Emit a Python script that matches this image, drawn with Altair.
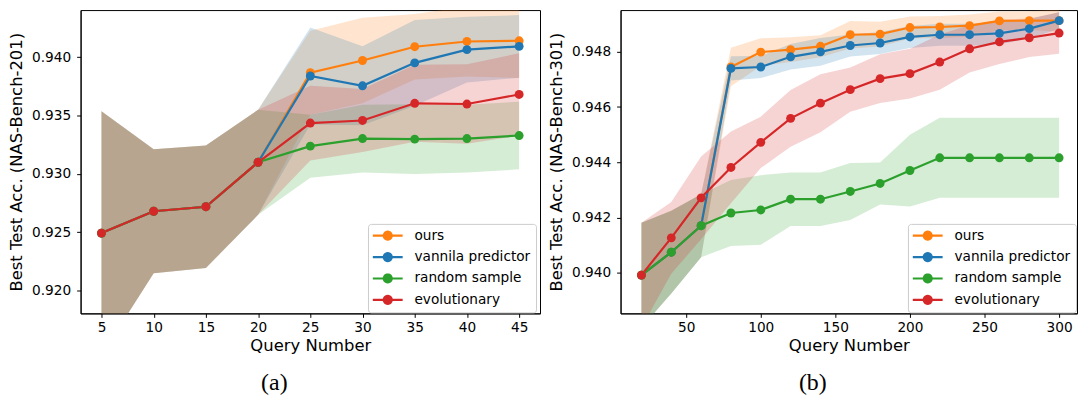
import math
import altair as alt
import pandas as pd

# ---------------- data ----------------
methods = ["ours", "vannila predictor", "random sample", "evolutionary"]
colors = ["#ff7f0e", "#1f77b4", "#2ca02c", "#d62728"]

# (a) NAS-Bench-201
x_a = [5, 10, 15, 20, 25, 30, 35, 40, 45]
ours_a = [0.92493, 0.92680, 0.92719, 0.93100, 0.93867, 0.93972, 0.94090, 0.94135, 0.94141]
ours_a_std = [0.01045, 0.00532, 0.00525, 0.00450, 0.00360, 0.00367, 0.00280, 0.00300, 0.00320]
vanilla_a = [0.92493, 0.92680, 0.92719, 0.93100, 0.93839, 0.93755, 0.93952, 0.94065, 0.94093]
vanilla_a_std = [0.01045, 0.00532, 0.00525, 0.00450, 0.00415, 0.00338, 0.00367, 0.00282, 0.00268]
random_a = [0.92493, 0.92680, 0.92719, 0.93100, 0.93238, 0.93303, 0.93298, 0.93303, 0.93329]
random_a_std = [0.01045, 0.00532, 0.00525, 0.00450, 0.00270, 0.00290, 0.00298, 0.00290, 0.00290]
evo_a = [0.92493, 0.92680, 0.92719, 0.93100, 0.93436, 0.93458, 0.93605, 0.93599, 0.93681]
evo_a_std = [0.01045, 0.00532, 0.00525, 0.00450, 0.00320, 0.00270, 0.00330, 0.00340, 0.00353]

# (b) NAS-Bench-301
x_b = [20, 40, 60, 80, 100, 120, 140, 160, 180, 200, 220, 240, 260, 280, 300]
ours_b = [0.93991, 0.94074, 0.94170, 0.94745, 0.94799, 0.94808, 0.94820, 0.94862,
          0.94864, 0.94888, 0.94890, 0.94895, 0.94912, 0.94913, 0.94913]
ours_b_std = [0.00190, 0.00150, 0.00114, 0.00070, 0.00050, 0.00045, 0.00040, 0.00050,
              0.00045, 0.00040, 0.00040, 0.00040, 0.00034, 0.00034, 0.00040]
vanilla_b = [0.93991, 0.94074, 0.94170, 0.94740, 0.94745, 0.94782, 0.94800, 0.94823,
             0.94832, 0.94854, 0.94862, 0.94862, 0.94867, 0.94884, 0.94913]
vanilla_b_std = [0.00190, 0.00150, 0.00114, 0.00044, 0.00040, 0.00046, 0.00050, 0.00040,
                 0.00040, 0.00040, 0.00040, 0.00040, 0.00040, 0.00035, 0.00030]
random_b = [0.93991, 0.94074, 0.94170, 0.94216, 0.94227, 0.94266, 0.94266, 0.94294,
            0.94323, 0.94370, 0.94416, 0.94416, 0.94416, 0.94416, 0.94416]
random_b_std = [0.00190, 0.00150, 0.00114, 0.00120, 0.00126, 0.00097, 0.00097, 0.00103,
                0.00076, 0.00130, 0.00145, 0.00145, 0.00145, 0.00145, 0.00145]
evo_b = [0.93991, 0.94126, 0.94271, 0.94381, 0.94472, 0.94559, 0.94614, 0.94663,
         0.94703, 0.94721, 0.94763, 0.94811, 0.94836, 0.94851, 0.94868]
evo_b_std = [0.00190, 0.00130, 0.00150, 0.00130, 0.00093, 0.00103, 0.00105, 0.00080,
             0.00088, 0.00090, 0.00100, 0.00086, 0.00080, 0.00070, 0.00075]

xticks_a = [5, 10, 15, 20, 25, 30, 35, 40, 45]
yticks_a = [0.920, 0.925, 0.930, 0.935, 0.940]
xticks_b = [50, 100, 150, 200, 250, 300]
yticks_b = [0.940, 0.942, 0.944, 0.946, 0.948]


def long_df(x, series):
    rows = []
    for name, (mean, std) in zip(methods, series):
        for xi, m, s in zip(x, mean, std):
            rows.append({"x": xi, "method": name, "mean": m, "lo": m - s, "hi": m + s})
    return pd.DataFrame(rows)


# legend symbol: a short line with a circle marker (path units scaled by sqrt(size)/2)
def legend_path():
    r = 0.85
    pts = []
    n = 24
    for i in range(n):
        t = 2 * math.pi * i / n
        pts.append(f"{r * math.cos(t):.3f},{r * math.sin(t):.3f}")
    circle = "M" + " L".join(pts) + " Z"
    line = "M-2.5,-0.18 L2.5,-0.18 L2.5,0.18 L-2.5,0.18 Z"
    return line + " " + circle


SYM = legend_path()


def make_legend():
    return alt.Legend(title=None, orient="none", legendX=289, legendY=215,
                      symbolType=SYM, symbolSize=144, symbolStrokeWidth=0, symbolOpacity=1,
                      symbolOffset=8, labelOffset=20, rowPadding=6.5, padding=5,
                      fillColor="rgba(255,255,255,0.8)", strokeColor="#cccccc",
                      cornerRadius=3, labelFontSize=13.75, labelFont="DejaVu Sans",
                      labelColor="black")


def panel(df, xdom, ydom, xticks, yticks, w, h, ylabel, caption):
    base = alt.Chart(df)
    xs = alt.Scale(domain=xdom, nice=False, zero=False)
    ys = alt.Scale(domain=ydom, nice=False, zero=False)
    cs = alt.Scale(domain=methods, range=colors)
    xenc = alt.X("x:Q", scale=xs,
                 axis=alt.Axis(values=xticks, title="Query Number", format="d"))
    yaxis = alt.Axis(values=yticks, title=ylabel, format=".3f")
    yenc = alt.Y("mean:Q", scale=ys, axis=yaxis)
    cenc = alt.Color("method:N", scale=cs, legend=make_legend())
    band = base.mark_area(opacity=0.2, clip=True).encode(
        x=xenc, y=alt.Y("lo:Q", scale=ys, axis=yaxis), y2="hi:Q", color=cenc)
    line = base.mark_line(strokeWidth=2.2, clip=True).encode(
        x=xenc, y=yenc, color=cenc)
    pts = base.mark_point(filled=True, size=80, opacity=1, clip=True).encode(
        x=xenc, y=yenc, color=cenc)
    return alt.layer(band, line, pts).properties(
        width=w, height=h,
        title=alt.TitleParams(caption, orient="bottom", anchor="middle", frame="bounds",
                              font="Liberation Serif", fontSize=24, fontWeight="normal",
                              color="black", offset=17),
    )


df_a = long_df(x_a, [(ours_a, ours_a_std), (vanilla_a, vanilla_a_std),
                     (random_a, random_a_std), (evo_a, evo_a_std)])
df_b = long_df(x_b, [(ours_b, ours_b_std), (vanilla_b, vanilla_b_std),
                     (random_b, random_b_std), (evo_b, evo_b_std)])

left = panel(df_a, [3, 47], [0.91805, 0.94404], xticks_a, yticks_a, 462, 305,
             "Best Test Acc. (NAS-Bench-201)", "(a)")
right = panel(df_b, [6, 312], [0.938523, 0.949513], xticks_b, yticks_b, 459, 305,
              "Best Test Acc. (NAS-Bench-301)", "(b)")

chart = alt.hconcat(left, right, spacing=7).resolve_scale(color="independent").configure(
    padding={"left": 0, "top": 0, "right": 0, "bottom": 0},
    font="DejaVu Sans",
).configure_view(
    stroke="black", strokeWidth=1,
).configure_axis(
    grid=False,
    domainColor="black", domainWidth=1,
    tickColor="black", tickWidth=1, tickSize=4,
    labelColor="black", labelFont="DejaVu Sans", labelFontSize=13.75, labelPadding=5,
    titleColor="black", titleFont="DejaVu Sans", titleFontSize=16.5, titleFontWeight="normal",
).configure_axisX(
    labelPadding=3, titlePadding=4,
).configure_axisY(
    labelPadding=6, titlePadding=7,
)

chart.save("out.html", embed_options={"renderer": "svg", "actions": False})
